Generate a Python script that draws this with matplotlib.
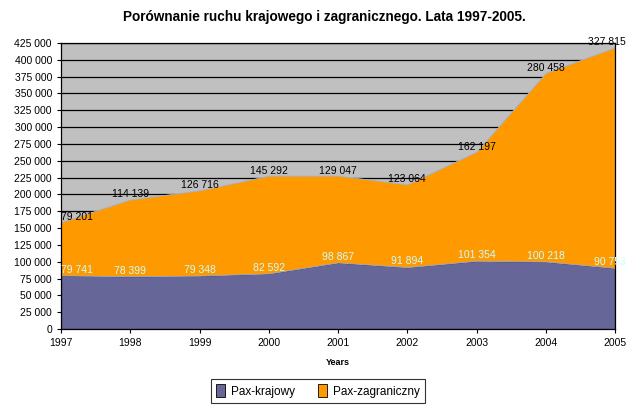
import matplotlib.pyplot as plt
from matplotlib.ticker import FuncFormatter, MultipleLocator
from matplotlib.patches import Patch

# Data
years = [1997, 1998, 1999, 2000, 2001, 2002, 2003, 2004, 2005]
pax_krajowy = [79741, 78399, 79348, 82592, 98867, 91894, 101354, 100218, 90753]
pax_zagraniczny = [79201, 114139, 126716, 145292, 129047, 123064, 162197, 280458, 327815]

col_kraj = "#666699"
col_zagr = "#FF9900"

plt.rcParams['font.family'] = ['Liberation Sans', 'DejaVu Sans']

fig = plt.figure(figsize=(6.43, 4.08), dpi=100)
ax = fig.add_axes([61 / 643, 1 - 329 / 408, (615 - 61) / 643, (329 - 43) / 408])
ax.set_facecolor("#C0C0C0")

polys = ax.stackplot(years, pax_krajowy, pax_zagraniczny, colors=[col_kraj, col_zagr],
                     linewidth=0.8, zorder=2)
polys[0].set_edgecolor("#1a1a4a")
polys[1].set_edgecolor("#9fb3d6")
polys[1].set_linewidth(0.6)

ax.set_xlim(1997, 2005)
ax.set_ylim(0, 425000)
ax.yaxis.set_major_locator(MultipleLocator(25000))
ax.yaxis.set_major_formatter(FuncFormatter(lambda v, p: f"{int(v):,}".replace(",", " ")))
ax.set_xticks(years)
ax.grid(axis="y", color="black", linewidth=0.9, zorder=1)
ax.set_axisbelow(True)
ax.tick_params(labelsize=7.5, length=3, width=0.8)
for s in ax.spines.values():
    s.set_linewidth(0.9)

# value labels
for i, (x, a, b) in enumerate(zip(years, pax_krajowy, pax_zagraniczny)):
    ha = "center"
    dx = 0
    if i == 0:
        ha = "left"
    if i == len(years) - 1:
        ha = "right"
        dx = 8
    ax.annotate(f"{b:,}".replace(",", " "), (x, a + b), xytext=(dx, 0), textcoords="offset points",
                ha=ha, va="bottom", fontsize=7.5, color="black", zorder=5, annotation_clip=False)
    ax.annotate(f"{a:,}".replace(",", " "), (x, a), xytext=(dx, 0.5), textcoords="offset points",
                ha=ha, va="bottom", fontsize=7.5, color="#CCFFFF", zorder=5, annotation_clip=False)

ax.set_xlabel("Years", fontsize=6.5, fontweight="bold", labelpad=7)
fig.suptitle("Porównanie ruchu krajowego i zagranicznego. Lata 1997-2005.",
             fontsize=9.8, fontweight="bold", x=0.504, y=0.975)

handles = [Patch(facecolor=col_kraj, edgecolor="black", linewidth=0.6, label="Pax-krajowy"),
           Patch(facecolor=col_zagr, edgecolor="black", linewidth=0.6, label="Pax-zagraniczny")]
leg = fig.legend(handles=handles, loc="center", bbox_to_anchor=(318 / 643, 1 - 391 / 408),
                 ncol=2, fontsize=8.5, frameon=True, fancybox=False, edgecolor="black",
                 handlelength=0.8, handleheight=1.3, handletextpad=0.5, columnspacing=1.9,
                 borderpad=0.45)
leg.get_frame().set_linewidth(0.8)

fig.savefig("out.png", dpi=100)
